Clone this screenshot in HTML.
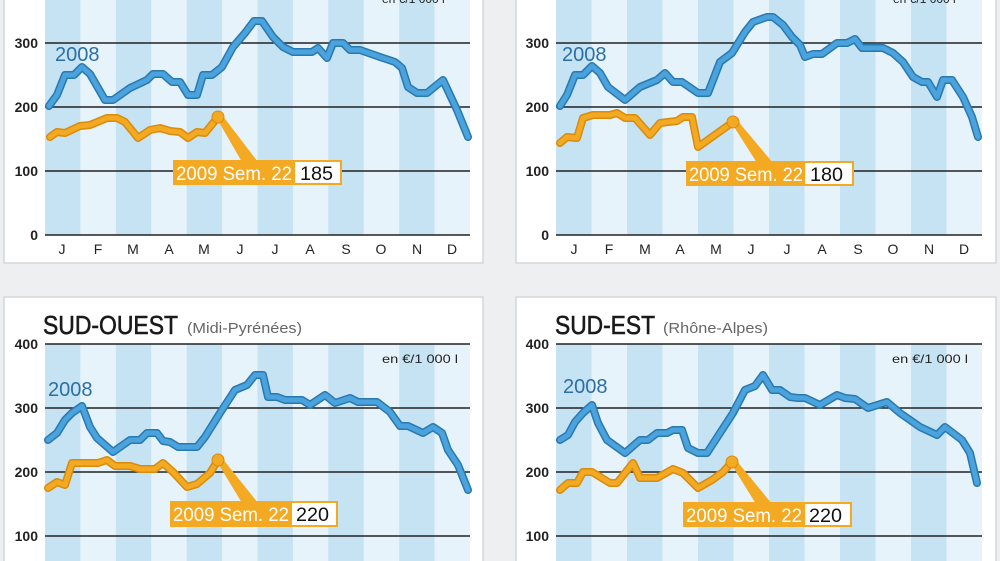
<!DOCTYPE html>
<html><head><meta charset="utf-8"><style>
html,body{margin:0;padding:0;background:#eeeff1;}
svg{display:block;font-family:"Liberation Sans",sans-serif;}
.yl{font-size:14px;font-weight:bold;fill:#222;text-anchor:end}
.ml{font-size:14px;fill:#222;text-anchor:middle}
.g{stroke:#222;stroke-width:1.5}
.bo{fill:none;stroke:#2a78b0;stroke-width:8;stroke-linejoin:round;stroke-linecap:round}
.bi{fill:none;stroke:#4aa3dc;stroke-width:5;stroke-linejoin:round;stroke-linecap:round}
.oo{fill:none;stroke:#d98b0c;stroke-width:8;stroke-linejoin:round;stroke-linecap:round}
.oi{fill:none;stroke:#f3a922;stroke-width:5;stroke-linejoin:round;stroke-linecap:round}
.y8{font-size:20px;fill:#2a6fa5}
.lab{font-size:19px;fill:#fff}
.num{font-size:19px;fill:#111}
.unit{font-size:12px;fill:#222}
.tt{font-size:26px;fill:#1a1a1a;stroke:#1a1a1a;stroke-width:0.6}
.st{font-size:15px;fill:#666}
</style></head><body>
<svg width="1000" height="561" viewBox="0 0 1000 561">
<defs>
<pattern id="pl" x="45" y="0" width="70.83" height="10" patternUnits="userSpaceOnUse"><rect width="35.42" height="10" fill="#c6e3f4"/><rect x="35.42" width="35.42" height="10" fill="#e7f3fb"/></pattern>
<pattern id="pr" x="556" y="0" width="71" height="10" patternUnits="userSpaceOnUse"><rect width="35.5" height="10" fill="#c6e3f4"/><rect x="35.5" width="35.5" height="10" fill="#e7f3fb"/></pattern>
</defs>
<rect width="1000" height="561" fill="#eeeff1"/>
<rect x="4" y="-5" width="479" height="268" fill="#fff" stroke="#d4d6da" stroke-width="1.5"/>
<rect x="516" y="-5" width="480" height="268" fill="#fff" stroke="#d4d6da" stroke-width="1.5"/>
<rect x="4" y="297" width="479" height="270" fill="#fff" stroke="#d4d6da" stroke-width="1.5"/>
<rect x="516" y="297" width="480" height="270" fill="#fff" stroke="#d4d6da" stroke-width="1.5"/>

<rect x="45" y="0" width="425" height="235" fill="url(#pl)"/>
<rect x="556" y="0" width="426" height="235" fill="url(#pr)"/>
<rect x="45" y="344" width="425" height="217" fill="url(#pl)"/>
<rect x="556" y="344" width="426" height="217" fill="url(#pr)"/>

<g class="g">
<line x1="45" y1="43" x2="470" y2="43"/><line x1="45" y1="107" x2="470" y2="107"/><line x1="45" y1="171" x2="470" y2="171"/><line x1="45" y1="235" x2="470" y2="235"/>
<line x1="556" y1="43" x2="982" y2="43"/><line x1="556" y1="107" x2="982" y2="107"/><line x1="556" y1="171" x2="982" y2="171"/><line x1="556" y1="235" x2="982" y2="235"/>
<line x1="45" y1="344" x2="470" y2="344"/><line x1="45" y1="408" x2="470" y2="408"/><line x1="45" y1="472" x2="470" y2="472"/><line x1="45" y1="536" x2="470" y2="536"/>
<line x1="556" y1="344" x2="982" y2="344"/><line x1="556" y1="408" x2="982" y2="408"/><line x1="556" y1="472" x2="982" y2="472"/><line x1="556" y1="536" x2="982" y2="536"/>
</g>
<g class="yl">
<text x="38" y="48">300</text><text x="38" y="112">200</text><text x="38" y="176">100</text><text x="38" y="240">0</text>
<text x="549" y="48">300</text><text x="549" y="112">200</text><text x="549" y="176">100</text><text x="549" y="240">0</text>
<text x="38" y="349">400</text><text x="38" y="413">300</text><text x="38" y="477">200</text><text x="38" y="541">100</text>
<text x="549" y="349">400</text><text x="549" y="413">300</text><text x="549" y="477">200</text><text x="549" y="541">100</text>
</g>
<g class="ml">
<text x="62" y="254">J</text><text x="98" y="254">F</text><text x="133" y="254">M</text><text x="169" y="254">A</text><text x="204" y="254">M</text><text x="240" y="254">J</text><text x="275" y="254">J</text><text x="310" y="254">A</text><text x="346" y="254">S</text><text x="381" y="254">O</text><text x="417" y="254">N</text><text x="452" y="254">D</text>
<text x="574" y="254">J</text><text x="609" y="254">F</text><text x="645" y="254">M</text><text x="680" y="254">A</text><text x="716" y="254">M</text><text x="751" y="254">J</text><text x="787" y="254">J</text><text x="822" y="254">A</text><text x="858" y="254">S</text><text x="893" y="254">O</text><text x="929" y="254">N</text><text x="964" y="254">D</text>
</g>

<text class="tt" x="43" y="334" textLength="135" lengthAdjust="spacingAndGlyphs">SUD-OUEST</text>
<text class="st" x="187" y="333" textLength="115" lengthAdjust="spacingAndGlyphs">(Midi-Pyrénées)</text>
<text class="tt" x="555" y="334" textLength="100" lengthAdjust="spacingAndGlyphs">SUD-EST</text>
<text class="st" x="663" y="333" textLength="105" lengthAdjust="spacingAndGlyphs">(Rhône-Alpes)</text>
<text class="unit" x="382" y="363" textLength="76" lengthAdjust="spacingAndGlyphs">en €/1 000 l</text>
<text class="unit" x="892" y="363" textLength="76" lengthAdjust="spacingAndGlyphs">en €/1 000 l</text>
<text class="unit" x="382" y="3">en €/1 000 l</text>
<text class="unit" x="893" y="3">en €/1 000 l</text>

<text class="y8" x="55" y="61">2008</text>
<text class="y8" x="562" y="61">2008</text>
<text class="y8" x="48" y="396">2008</text>
<text class="y8" x="563" y="393">2008</text>

<polyline class="bo" points="49,106 57,95 65,75 74,75 82,67 90,74 105,100 113,100 130,88 147,80 153,74 163,74 172,82 180,82 188,95 197,95 203,75 212,75 222,67 233,47 245,33 254,21 262,21 273,37 283,47 293,52 312,52 318,48 327,58 333,43 343,43 350,50 360,50 380,57 395,62 402,68 408,87 417,93 427,93 443,80 457,110 468,137"/>
<polyline class="bi" points="49,106 57,95 65,75 74,75 82,67 90,74 105,100 113,100 130,88 147,80 153,74 163,74 172,82 180,82 188,95 197,95 203,75 212,75 222,67 233,47 245,33 254,21 262,21 273,37 283,47 293,52 312,52 318,48 327,58 333,43 343,43 350,50 360,50 380,57 395,62 402,68 408,87 417,93 427,93 443,80 457,110 468,137"/>
<polyline class="oo" points="50,137 57,132 65,133 80,126 90,125 107,118 117,118 125,122 138,138 150,130 160,128 170,131 180,132 188,138 197,132 205,133 218,117"/>
<polyline class="oi" points="50,137 57,132 65,133 80,126 90,125 107,118 117,118 125,122 138,138 150,130 160,128 170,131 180,132 188,138 197,132 205,133 218,117"/>
<polygon points="216,117 222,115 258,162 242,162" fill="#f3a922"/>
<circle cx="218" cy="117" r="6" fill="#f3a922" stroke="#d98b0c" stroke-width="1"/>
<rect x="173" y="160" width="169" height="25" fill="#f3a922"/>
<rect x="295" y="162" width="45" height="21" fill="#fff"/>
<text class="lab" x="176" y="180" textLength="116" lengthAdjust="spacingAndGlyphs">2009  Sem. 22</text>
<text class="num" x="300" y="180" textLength="33" lengthAdjust="spacingAndGlyphs">185</text>

<polyline class="bo" points="560,106 567,95 575,75 583,75 592,66 600,73 608,87 625,100 640,87 657,80 665,73 673,82 682,82 698,93 708,93 720,62 732,53 745,32 753,22 767,17 773,17 783,25 792,37 800,45 805,57 813,54 822,54 837,43 847,43 855,39 862,48 883,48 893,53 903,62 913,77 922,82 928,82 937,97 943,80 952,80 963,97 972,117 978,137"/>
<polyline class="bi" points="560,106 567,95 575,75 583,75 592,66 600,73 608,87 625,100 640,87 657,80 665,73 673,82 682,82 698,93 708,93 720,62 732,53 745,32 753,22 767,17 773,17 783,25 792,37 800,45 805,57 813,54 822,54 837,43 847,43 855,39 862,48 883,48 893,53 903,62 913,77 922,82 928,82 937,97 943,80 952,80 963,97 972,117 978,137"/>
<polyline class="oo" points="560,143 567,137 577,138 583,118 593,115 610,115 617,113 625,118 635,118 650,135 660,123 668,122 677,121 683,117 692,117 698,147 733,122"/>
<polyline class="oi" points="560,143 567,137 577,138 583,118 593,115 610,115 617,113 625,118 635,118 650,135 660,123 668,122 677,121 683,117 692,117 698,147 733,122"/>
<polygon points="731,122 737,120 773,163 757,163" fill="#f3a922"/>
<circle cx="733" cy="122" r="6" fill="#f3a922" stroke="#d98b0c" stroke-width="1"/>
<rect x="686" y="161" width="168" height="25" fill="#f3a922"/>
<rect x="805" y="163" width="47" height="21" fill="#fff"/>
<text class="lab" x="689" y="181" textLength="114" lengthAdjust="spacingAndGlyphs">2009  Sem. 22</text>
<text class="num" x="810" y="181" textLength="33" lengthAdjust="spacingAndGlyphs">180</text>

<polyline class="bo" points="48,440 57,433 65,420 72,413 82,406 90,427 97,438 113,452 130,440 140,440 147,433 157,433 163,441 170,442 178,447 197,447 205,437 220,413 235,390 247,385 255,375 263,375 268,397 277,397 285,400 302,400 310,405 325,395 335,403 350,398 358,402 377,402 390,412 400,426 408,426 423,433 433,427 442,433 448,450 458,465 468,490"/>
<polyline class="bi" points="48,440 57,433 65,420 72,413 82,406 90,427 97,438 113,452 130,440 140,440 147,433 157,433 163,441 170,442 178,447 197,447 205,437 220,413 235,390 247,385 255,375 263,375 268,397 277,397 285,400 302,400 310,405 325,395 335,403 350,398 358,402 377,402 390,412 400,426 408,426 423,433 433,427 442,433 448,450 458,465 468,490"/>
<polyline class="oo" points="48,488 57,482 65,485 72,463 88,463 98,463 107,460 115,466 130,466 140,469 155,469 163,463 173,472 187,487 197,484 210,473 218,460"/>
<polyline class="oi" points="48,488 57,482 65,485 72,463 88,463 98,463 107,460 115,466 130,466 140,469 155,469 163,463 173,472 187,487 197,484 210,473 218,460"/>
<polygon points="216,460 222,458 258,503 242,503" fill="#f3a922"/>
<circle cx="218" cy="460" r="6" fill="#f3a922" stroke="#d98b0c" stroke-width="1"/>
<rect x="170" y="501" width="168" height="26" fill="#f3a922"/>
<rect x="292" y="503" width="44" height="22" fill="#fff"/>
<text class="lab" x="173" y="521" textLength="116" lengthAdjust="spacingAndGlyphs">2009  Sem. 22</text>
<text class="num" x="296" y="521" textLength="33" lengthAdjust="spacingAndGlyphs">220</text>

<polyline class="bo" points="560,440 568,435 575,422 583,413 592,405 598,423 607,440 625,453 640,440 648,440 657,433 667,433 673,430 682,430 688,448 698,453 707,453 733,413 745,390 755,386 763,375 772,390 780,390 790,397 798,398 805,398 820,405 837,395 845,398 855,399 868,408 887,402 900,413 920,427 937,435 945,427 962,440 970,453 977,483"/>
<polyline class="bi" points="560,440 568,435 575,422 583,413 592,405 598,423 607,440 625,453 640,440 648,440 657,433 667,433 673,430 682,430 688,448 698,453 707,453 733,413 745,390 755,386 763,375 772,390 780,390 790,397 798,398 805,398 820,405 837,395 845,398 855,399 868,408 887,402 900,413 920,427 937,435 945,427 962,440 970,453 977,483"/>
<polyline class="oo" points="560,490 568,483 577,483 583,472 592,472 610,483 617,483 633,463 640,478 657,478 673,469 683,473 698,488 712,480 723,472 732,462"/>
<polyline class="oi" points="560,490 568,483 577,483 583,472 592,472 610,483 617,483 633,463 640,478 657,478 673,469 683,473 698,488 712,480 723,472 732,462"/>
<polygon points="730,462 736,460 772,504 756,504" fill="#f3a922"/>
<circle cx="732" cy="462" r="6" fill="#f3a922" stroke="#d98b0c" stroke-width="1"/>
<rect x="683" y="502" width="169" height="25" fill="#f3a922"/>
<rect x="805" y="504" width="45" height="21" fill="#fff"/>
<text class="lab" x="686" y="522" textLength="116" lengthAdjust="spacingAndGlyphs">2009  Sem. 22</text>
<text class="num" x="809" y="522" textLength="33" lengthAdjust="spacingAndGlyphs">220</text>
</svg>
</body></html>
